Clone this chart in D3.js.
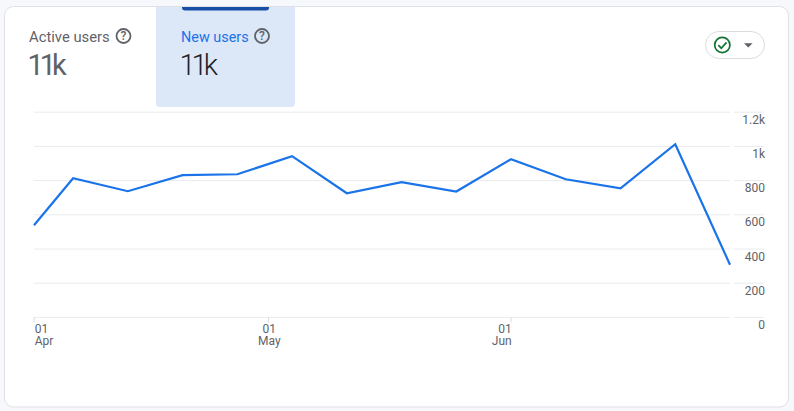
<!DOCTYPE html>
<html><head><meta charset="utf-8">
<script src="https://cdn.jsdelivr.net/npm/d3@7"></script>
<style>
html,body{margin:0;padding:0;background:#f7f8fb;}
svg{display:block;font-family:Roboto,sans-serif;}
</style></head><body>
<svg id="c" width="794" height="411"></svg>
<script>
const dates = ["2025-04-01","2025-04-06","2025-04-13","2025-04-20","2025-04-27","2025-05-04","2025-05-11","2025-05-18","2025-05-25","2025-06-01","2025-06-08","2025-06-15","2025-06-22","2025-06-29"];
const newUsers = [539,814,738,832,837,943,726,791,736,925,808,755,1013,308];
const yTicks = [0,200,400,600,800,1000,1200];
const yTickLabels = ["0","200","400","600","800","1k","1.2k"];
const xTicks = ["2025-04-01","2025-05-01","2025-06-01"];
const xTickDays = ["01","01","01"];
const xTickMonths = ["Apr","May","Jun"];
const metricLabels = ["Active users","New users"];
const metricValues = ["11k","11k"];

const parse = d3.utcParse("%Y-%m-%d");
const svg = d3.select("#c");
const x = d3.scaleUtc().domain([parse(dates[0]),parse(dates[dates.length-1])]).range([34,730]);
const y = d3.scaleLinear().domain([0,1200]).range([317.4,112.2]);

// card
svg.append("rect").attr("x",4.5).attr("y",6.5).attr("width",784).attr("height",400.5).attr("rx",9)
  .attr("fill","#fff").attr("stroke","#dfe1e7");

// selected tab
svg.append("path").attr("d","M156 7H295V103a4 4 0 0 1 -4 4H160a4 4 0 0 1 -4 -4Z").attr("fill","#dce7f8");
svg.append("path").attr("d","M182 7H269V7.5a3 3 0 0 1 -3 3H185a3 3 0 0 1 -3 -3Z").attr("fill","#174ea6");

// metric headers
const tabX=[29,181], iconX=[123.5,262], labCol=["#5f6368","#1a73e8"], valCol=["#5f6368","#202124"], labSize=[14.8,14.4];
metricLabels.forEach((t,i)=>{
  svg.append("text").attr("x",tabX[i]).attr("y",42).attr("font-size",labSize[i]).attr("fill",labCol[i]).attr("font-weight",400).text(t);
  svg.append("text").attr("x",tabX[i]-1.5).attr("y",74.5).attr("font-size",29).attr("font-weight",i?300:400).attr("letter-spacing",-4).attr("fill",valCol[i]).text(metricValues[i]);
  const g=svg.append("g").attr("transform",`translate(${iconX[i]},36)`);
  g.append("circle").attr("r",7).attr("fill","none").attr("stroke","#5f6368").attr("stroke-width",1.8);
  g.append("text").attr("text-anchor","middle").attr("y",4.2).attr("font-size",12).attr("font-weight",500).attr("fill","#5f6368").text("?");
});

// status button
svg.append("rect").attr("x",705.5).attr("y",31.5).attr("width",59).attr("height",27).attr("rx",13.5).attr("fill","#fff").attr("stroke","#dadce0");
svg.append("circle").attr("cx",722.3).attr("cy",45).attr("r",7.6).attr("fill","none").attr("stroke","#137333").attr("stroke-width",1.7);
svg.append("path").attr("d","M718.3 45.2l3 3 5.2-5.8").attr("fill","none").attr("stroke","#137333").attr("stroke-width",1.7);
svg.append("path").attr("d","M744 43.3h8.6l-4.3 4.2Z").attr("fill","#5f6368");

// grid (two segments, plot and label gutter), via axes
const gridCol="#e8eaed";
const gridA=svg.append("g").attr("transform","translate(730,0)")
  .call(d3.axisLeft(y).offset(0).tickValues(yTicks).tickSize(696).tickFormat(""));
const gridB=svg.append("g").attr("transform","translate(764,0)")
  .call(d3.axisLeft(y).offset(0).tickValues(yTicks).tickSize(30).tickFormat(""));
[gridA,gridB].forEach(g=>{g.select(".domain").remove();g.selectAll("line").attr("stroke",gridCol).attr("stroke-width",1);});

// y labels
const yAxis=svg.append("g").attr("transform","translate(765,0)")
  .call(d3.axisLeft(y).offset(0).tickValues(yTicks).tickSize(0).tickPadding(0).tickFormat((d,i)=>yTickLabels[i]));
yAxis.select(".domain").remove();
yAxis.selectAll("text").attr("font-family","Roboto,sans-serif").attr("font-size",12).attr("fill","#5f6368").attr("dy",null).attr("y",11.5);

// x axis
const xAxis=svg.append("g").attr("transform","translate(0,317.4)")
  .call(d3.axisBottom(x).offset(0).tickValues(xTicks.map(parse)).tickSize(5).tickFormat(""));
xAxis.select(".domain").remove();
xAxis.selectAll("line").attr("stroke","#dadce0");
const anchors=["start","middle","end"];
xTicks.forEach((d,i)=>{
  const px=x(parse(d))+0.7;
  const t=svg.append("text").attr("x",px).attr("text-anchor",anchors[i])
    .attr("font-size",12).attr("fill","#5f6368");
  t.append("tspan").attr("x",px).attr("y",333).text(xTickDays[i]);
  t.append("tspan").attr("x",px).attr("y",345).text(xTickMonths[i]);
});

// series
const line=d3.line().x((d,i)=>x(parse(dates[i]))).y(d=>y(d));
svg.append("path").datum(newUsers).attr("d",line).attr("fill","none").attr("stroke","#1a73e8").attr("stroke-width",2.2);
</script>
</body></html>
